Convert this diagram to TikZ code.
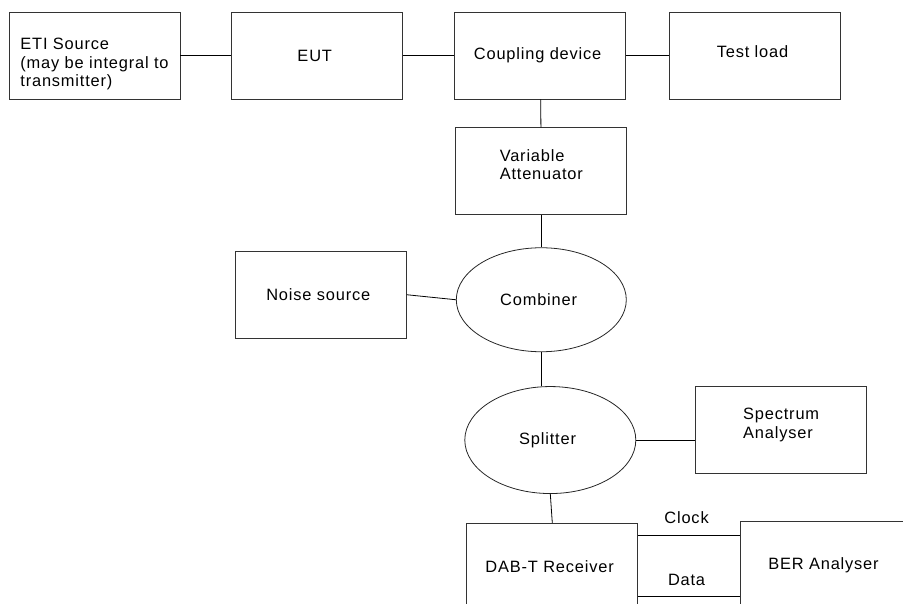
\documentclass[tikz,border=0pt]{standalone}
\usepackage{fontspec}
\setmainfont[LetterSpace=5]{Liberation Sans}
\usetikzlibrary{positioning, shapes.geometric}

\begin{document}
\begin{tikzpicture}[x = 1pt, y = -1pt,
    every node/.style = { font = \fontsize{16.4}{18.5}\selectfont, align = left },
    box/.style = { draw = black!80, line width = 0.9pt, shape = rectangle,
                   minimum width = 171pt, minimum height = 87pt, inner sep = 0pt },
    oval/.style = { draw = black!85, line width = 0.8pt, shape = ellipse,
                    minimum width = 170pt, minimum height = 104pt, inner sep = 0pt },
    wire/.style = { line width = 0.8pt }]
    \useasboundingbox (0,0) rectangle (903,604);
    \clip (0,0) rectangle (903,604);

    % top row
    \node [box, text height = 66pt] (eti) at (94.5,55.5) { ETI Source \\ (may be integral to \\ transmitter) };
    \node [box, right = 51pt of eti] (eut) { EUT };
    \node [box, right = 51pt of eut] (coup) { Coupling device };
    \node [box, right = 43pt of coup, text depth = 7pt] (load) { Test load };

    % signal chain
    \node [box, below = 28pt of coup, xshift = 1pt, text depth = 14pt] (atten) { Variable \\ Attenuator };
    \node [oval, below = 32pt of atten] (comb) { Combiner };
    \node [box, left = 49pt of comb, yshift = 5pt] (noise) { Noise source };
    \node [oval, below = 34pt of comb, xshift = 9pt, minimum width = 171pt, minimum height = 107pt] (split) { Splitter };
    \node [box, right = 59pt of split, yshift = 10.5pt, text depth = 13pt] (spec) { Spectrum \\ Analyser };
    \node [box, below = 29pt of split, xshift = 2pt] (rx) { DAB-T Receiver };
    \node [box, right = 102pt of rx, yshift = 2pt] (ber) { BER Analyser };

    \draw [wire] (eti) -- (eut);
    \draw [wire] (eut) -- (coup);
    \draw [wire] (coup) -- (load);
    \draw [wire] (coup) -- (atten);
    \draw [wire] (atten) -- (comb);
    \draw [wire] (noise.east) -- (comb.west);
    \draw [wire] (comb.south) -- (comb.south |- split.north);
    \draw [wire] (split.east) -- (split.east -| spec.west);
    \draw [wire] (split.south) -- (rx.north);
    \draw [line width = 1.6pt] ([yshift = 31.5pt]rx.east) -- ([yshift = 31.5pt]rx.east -| ber.west)
      node [midway, above = 8pt] { Clock };
    \draw [wire] ([yshift = -29.5pt]rx.east) -- ([yshift = -29.5pt]rx.east -| ber.west)
      node [midway, above = 7pt] { Data };
\end{tikzpicture}
\end{document}
